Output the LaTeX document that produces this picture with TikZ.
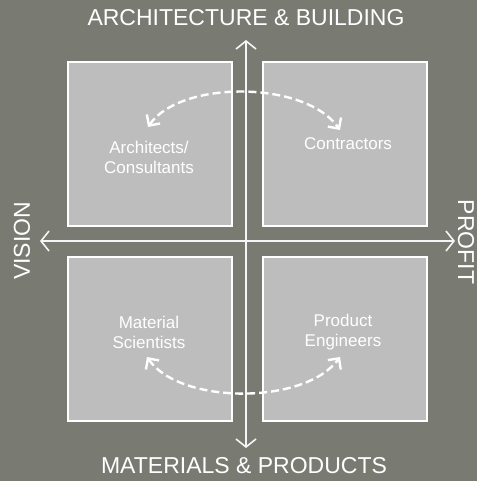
\documentclass[tikz,border=0pt]{standalone}
\usepackage{fontspec}
\setmainfont{Liberation Sans}
\usetikzlibrary{arrows.meta,positioning}
\definecolor{bggray}{HTML}{797B73}
\definecolor{boxgray}{HTML}{BDBDBD}
\begin{document}
\begin{tikzpicture}[x=1pt,y=-1pt,
    quad/.style={draw=white,line width=1.6pt,fill=boxgray,minimum size=164pt,inner sep=0pt},
    role/.style={text=white,font=\fontsize{17}{20}\selectfont,align=center},
    axislabel/.style={text=white,font=\fontsize{23}{25}\selectfont},
    axis/.style={draw=white!92!gray,line width=1.6pt,{Straight Barb[length=8pt,width=20pt]}-{Straight Barb[length=8pt,width=20pt]}},
    link/.style={draw=white,line width=2.4pt,dash pattern=on 8pt off 4pt,{Straight Barb[length=8pt,width=16pt]}-{Straight Barb[length=8pt,width=16pt]}}]

    % Background
    \useasboundingbox[fill=bggray] (0,0) rectangle (477,481);

    % The four quadrants
    \node[quad] (archsq) at (150,144) {};
    \node[quad] (contsq) at (345,144) {};
    \node[quad] (matsq) at (150,339) {};
    \node[quad] (prodsq) at (345,339) {};

    % Axes
    \coordinate (topend) at (246,40);
    \coordinate (botend) at (246,448);
    \coordinate (leftend) at (40,241);
    \coordinate (rightend) at (455,241);
    \draw[axis] (botend) -- (topend);
    \draw[axis] (leftend) -- (rightend);

    % Axis labels
    \node[axislabel] (archlab) at (246,18) {ARCHITECTURE \& BUILDING};
    \node[axislabel] (matlab) at (244,466) {MATERIALS \& PRODUCTS};
    \node[axislabel,rotate=90] (vislab) at (22,241) {VISION};
    \node[axislabel,rotate=-90] (proflab) at (466,242) {PROFIT};

    % Roles
    \node[role] (architects) at (149,157) {Architects/\\Consultants};
    \node[role] (contractors) at (348,144) {Contractors};
    \node[role] (scientists) at (149,332) {Material\\Scientists};
    \node[role] (engineers) at (343,332) {Product\\Engineers};

    % Dashed links between roles
    \coordinate (archtip) at (148,127);
    \coordinate (conttip) at (340,130);
    \coordinate (mattip) at (147,357);
    \coordinate (prodtip) at (340,357);
    \draw[link] (archtip) .. controls (180,80) and (305,80) .. (conttip);
    \draw[link] (mattip) .. controls (180,405) and (305,405) .. (prodtip);
\end{tikzpicture}
\end{document}
